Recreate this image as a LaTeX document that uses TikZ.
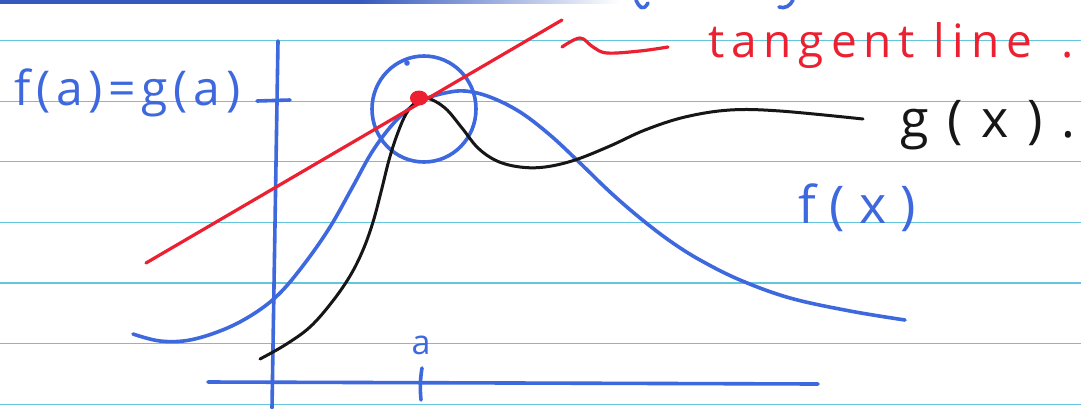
\documentclass[tikz,border=0pt]{standalone}
\usepackage{fontspec}
\setmainfont{Open Sans}
\definecolor{penblue}{RGB}{62,104,222}
\definecolor{penred}{RGB}{236,32,48}
\definecolor{penblack}{RGB}{22,22,22}
\definecolor{rulecyan}{RGB}{100,198,220}
\begin{document}
\begin{tikzpicture}[x=1pt,y=-1pt,
  pen/.style={line width=3pt, line cap=round, line join=round},
  bluepen/.style={pen, draw=penblue, line width=3.6pt},
  blackpen/.style={pen, draw=penblack, line width=3pt},
  redpen/.style={pen, draw=penred, line width=3.2pt},
  ruleline/.style={draw=rulecyan, line width=1.3pt},
  hand/.style={inner sep=0pt, anchor=base west}]
\useasboundingbox (0,0) rectangle (1081,408);
\fill[white] (0,0) rectangle (1081,408);
% paper rules
\foreach \y in {40.7,101.2,161.7,222.5,283,343.6,404.5}
  \draw[ruleline] (0,\y) -- (1081,\y);
\fill[penblue!85!black] (0,0) rectangle (360,3.5);
\shade[left color=penblue!85!black, right color=white] (360,0) rectangle (620,3.5);
% cut-off strokes at the top
\draw[bluepen] (636,0) .. controls (639,7) and (643,12) .. (648,3);
\draw[bluepen] (779,7) .. controls (785,9) and (790,6) .. (793,0);
% axes
\coordinate (yb) at (272,408);
\coordinate (yt) at (278,41);
\coordinate (xl) at (208,382);
\coordinate (xr) at (818,384);
\draw[bluepen] (yb) -- (yt);
\draw[bluepen] (xl) -- (xr);
\coordinate (ta1) at (422,368);
\coordinate (ta2) at (421,400);
\draw[bluepen] (ta1) .. controls (420,380) and (420,390) .. (ta2);
\coordinate (ty1) at (257,101);
\coordinate (ty2) at (290,100);
\draw[bluepen] (ty1) -- (ty2);
% circle around the point
\draw[bluepen] (424,109) ellipse (52 and 53);
\fill[penblue] (407,63) circle (2.8);
% f(x)
\draw[bluepen] plot[smooth, tension=0.6] coordinates {
  (133,334) (160,341) (190,340) (225,329) (255,313) (280,293)
  (305,263) (330,227) (352,188) (372,152) (392,125) (410,108)
  (425,99) (445,93) (465,91) (490,97) (520,112) (550,135)
  (580,163) (610,192) (640,218) (670,241) (700,260) (740,280)
  (790,298) (850,311) (905,320)};
% g(x)
\draw[blackpen] plot[smooth, tension=0.6] coordinates {
  (260,359) (285,345) (310,327) (332,302) (350,276) (363,250)
  (373,222) (381,192) (389,160) (397,135) (406,114) (416,102)
  (427,98) (445,108) (462,128) (478,148) (497,161) (520,167)
  (545,167) (575,160) (610,146) (645,130) (685,117) (730,110)
  (780,111) (863,119)};
% tangent line
\coordinate (tl1) at (146,263);
\coordinate (tl2) at (562,20);
\draw[redpen] (tl1) -- (tl2);
\fill[penred] (419,98) ellipse (9 and 7.5);
\draw[redpen] plot[smooth, tension=0.6] coordinates {
  (562,47) (580,38) (593,47) (607,53) (640,51) (668,47)};
% labels
\node[hand, text=penblue, font=\fontsize{48}{50}\selectfont\addfontfeature{LetterSpace=12}] (fa) at (14,105) {f(a)=g(a)};
\node[hand, text=penred, font=\fontsize{46}{48}\selectfont\addfontfeature{LetterSpace=15}] (tang) at (708,57) {tangent line\hspace{30pt}.};
\node[hand, text=penblack, font=\fontsize{52}{54}\selectfont\addfontfeature{LetterSpace=36}] (gx) at (900,137) {g(x).};
\node[hand, text=penblue, font=\fontsize{52}{54}\selectfont\addfontfeature{LetterSpace=27}] (fx) at (798,223) {f(x)};
\node[inner sep=0pt, text=penblue, font=\fontsize{34}{36}\selectfont] (alab) at (421,345) {a};
\end{tikzpicture}
\end{document}
